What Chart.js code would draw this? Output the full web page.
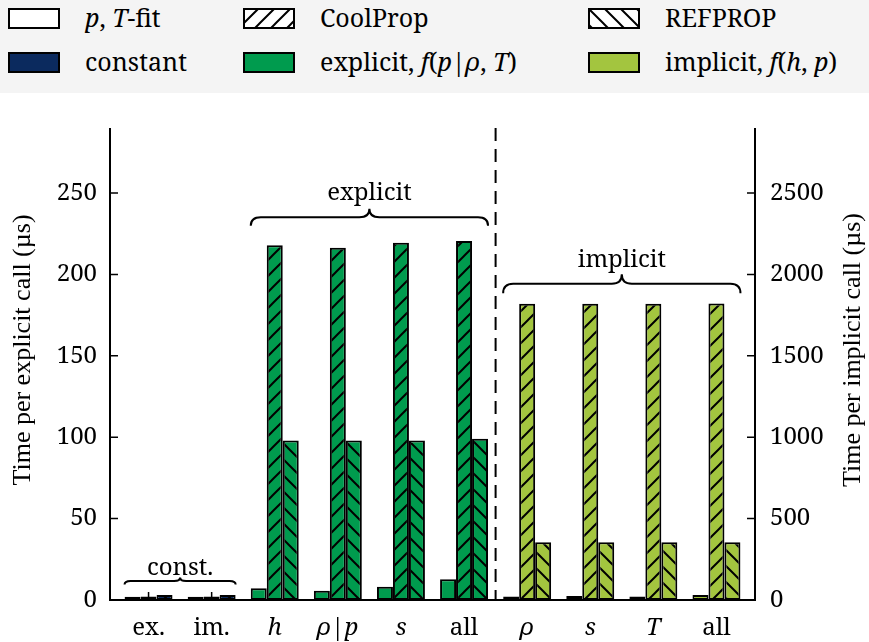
<!DOCTYPE html>
<html>
<head>
<meta charset="UTF-8">
<title>Time per call</title>
<script src="https://cdn.jsdelivr.net/npm/chart.js@4.4.0/dist/chart.umd.min.js"></script>
<style>
    body { margin:0; padding:0; background:#fff; }
    #wrap { position:relative; width:869px; height:642px; }
    #legend {
        position:absolute; left:0; top:0; width:869px; height:93px;
        background:#f4f4f4;
        font-family:"Noto Serif", "Liberation Serif", serif; font-size:25px; color:#000;
    }
    .item { position:absolute; height:21px; line-height:21px; white-space:nowrap; }
    .item canvas { position:absolute; left:0; top:0; }
    .item span { position:absolute; left:77px; top:-1px; }
    #chart { position:absolute; left:0; top:0; }
</style>
</head>
<body>
<div id="wrap">
    <canvas id="chart" width="869" height="642"></canvas>
    <div id="legend">
        <div class="item" style="left:8px;top:8px"><canvas id="sw0" width="52" height="21"></canvas><span><i>p</i>, <i>T</i>-fit</span></div>
        <div class="item" style="left:243px;top:8px"><canvas id="sw1" width="52" height="21"></canvas><span>CoolProp</span></div>
        <div class="item" style="left:588px;top:8px"><canvas id="sw2" width="52" height="21"></canvas><span>REFPROP</span></div>
        <div class="item" style="left:8px;top:52px"><canvas id="sw3" width="52" height="21"></canvas><span>constant</span></div>
        <div class="item" style="left:243px;top:52px"><canvas id="sw4" width="52" height="21"></canvas><span>explicit, <i>f</i>(<i>p</i>|<i>ρ</i>, <i>T</i>)</span></div>
        <div class="item" style="left:588px;top:52px"><canvas id="sw5" width="52" height="21"></canvas><span>implicit, <i>f</i>(<i>h</i>, <i>p</i>)</span></div>
    </div>
</div>
<script type="text/javascript">

// categories: 2 constant, 4 explicit (left axis), 4 implicit (right axis)
var categories = ['ex.', 'im.', 'h', 'ρ|p', 's', 'all', 'ρ', 's', 'T', 'all'];
var italicLabels = [2, 3, 4, 6, 7, 8];

// time per explicit call (µs), constant + explicit groups
var fitExplicit      = [2.0, 2.0, 7.2, 5.7, 8.2, 12.7];
var coolpropExplicit = [2.2, 2.2, 218, 216.5, 219.5, 220.5];
var refpropExplicit  = [3.0, 3.0, 98, 98, 98, 99];

// time per implicit call (µs)
var fitImplicit      = [22, 24, 22, 30];
var coolpropImplicit = [1820, 1820, 1820, 1822];
var refpropImplicit  = [355, 355, 355, 355];

var explicitTicks = [0, 50, 100, 150, 200, 250];
var implicitTicks = [0, 500, 1000, 1500, 2000, 2500];

var FONT = '"Noto Serif", "Liberation Serif", serif';
var TITLE_FONT = '"Liberation Serif", serif';
var colors = { constant: '#0b2a5e', explicit: '#009b4e', implicit: '#a3c53f' };

function groupOf(i) {
    if (i < 2) return 'constant';
    if (i < 6) return 'explicit';
    return 'implicit';
}

function makeFill(ctx, color, hatch) {
    if (!hatch) return color;
    var c = document.createElement('canvas');
    c.width = 16; c.height = 16;
    var g = c.getContext('2d');
    g.fillStyle = color;
    g.fillRect(0, 0, 16, 16);
    g.strokeStyle = '#000';
    g.lineWidth = 2;
    g.beginPath();
    if (hatch === '/') {
        g.moveTo(-2, 18); g.lineTo(18, -2);
        g.moveTo(-2, 2); g.lineTo(2, -2);
        g.moveTo(14, 18); g.lineTo(18, 14);
    } else {
        g.moveTo(-2, -2); g.lineTo(18, 18);
        g.moveTo(14, -2); g.lineTo(18, 2);
        g.moveTo(-2, 14); g.lineTo(2, 18);
    }
    g.stroke();
    return ctx.createPattern(c, 'repeat');
}

var mainCtx = document.getElementById('chart').getContext('2d');
var fills = {};
Object.keys(colors).forEach(function (k) {
    fills[k] = {
        fit: colors[k],
        cool: makeFill(mainCtx, colors[k], '/'),
        ref: makeFill(mainCtx, colors[k], '\\')
    };
});

// legend swatches
function swatch(id, fill) {
    var g = document.getElementById(id).getContext('2d');
    g.fillStyle = fill;
    g.fillRect(0, 0, 52, 21);
    g.strokeStyle = '#000';
    g.lineWidth = 2;
    g.strokeRect(1, 1, 50, 19);
}
swatch('sw0', '#fff');
swatch('sw1', makeFill(mainCtx, '#fff', '/'));
swatch('sw2', makeFill(mainCtx, '#fff', '\\'));
swatch('sw3', colors.constant);
swatch('sw4', colors.explicit);
swatch('sw5', colors.implicit);

function pad(before, values, after) {
    var out = [];
    for (var i = 0; i < before; i++) out.push(null);
    out = out.concat(values);
    for (var j = 0; j < after; j++) out.push(null);
    return out;
}

function bars(label, data, axis, kind) {
    return {
        label: label,
        data: data,
        yAxisID: axis,
        skipNull: true,
        backgroundColor: function (c) { return fills[groupOf(c.dataIndex)][kind]; },
        borderColor: '#000',
        borderWidth: 2,
        borderSkipped: false,
        categoryPercentage: 0.76,
        barPercentage: 1
    };
}

var braces = [
    { label: 'const.',   from: 0, to: 1, axis: 'y',  at: 9.5,  h: 7,  r: 6,  gap: 3 },
    { label: 'explicit', from: 2, to: 5, axis: 'y',  at: 230,  h: 17, r: 10, gap: 9 },
    { label: 'implicit', from: 6, to: 9, axis: 'y2', at: 1885, h: 19, r: 10, gap: 7 }
];

function drawBrace(ctx, x1, x2, y, h, r) {
    var xm = (x1 + x2) / 2, ym = y - h / 2;
    ctx.beginPath();
    ctx.moveTo(x1, y);
    ctx.quadraticCurveTo(x1, ym, x1 + r, ym);
    ctx.lineTo(xm - r, ym);
    ctx.quadraticCurveTo(xm, ym, xm, y - h);
    ctx.quadraticCurveTo(xm, ym, xm + r, ym);
    ctx.lineTo(x2 - r, ym);
    ctx.quadraticCurveTo(x2, ym, x2, y);
    ctx.stroke();
}

var decorations = {
    id: 'decorations',
    beforeDatasetsDraw: function (chart) {
        var ctx = chart.ctx, x = chart.scales.x, a = chart.chartArea;
        ctx.save();
        ctx.strokeStyle = '#000';
        ctx.lineWidth = 1.5;
        ctx.beginPath();
        categories.forEach(function (_, i) {
            var px = x.getPixelForValue(i);
            ctx.moveTo(px, a.bottom);
            ctx.lineTo(px, a.bottom - 8);
        });
        ctx.stroke();
        ctx.restore();
    },
    afterDatasetsDraw: function (chart) {
        var ctx = chart.ctx, a = chart.chartArea, x = chart.scales.x;
        var yl = chart.scales.y, yr = chart.scales.y2;
        var L = a.left - 7, R = a.right + 7;
        ctx.save();
        ctx.strokeStyle = '#000';

        // frame
        ctx.lineWidth = 2;
        ctx.beginPath();
        ctx.moveTo(L, a.top); ctx.lineTo(L, a.bottom); ctx.lineTo(R, a.bottom); ctx.lineTo(R, a.top);
        ctx.stroke();

        // inward y ticks
        ctx.lineWidth = 1.5;
        ctx.beginPath();
        explicitTicks.forEach(function (v) {
            var py = yl.getPixelForValue(v);
            ctx.moveTo(L, py); ctx.lineTo(L + 8, py);
        });
        implicitTicks.forEach(function (v) {
            var py = yr.getPixelForValue(v);
            ctx.moveTo(R, py); ctx.lineTo(R - 8, py);
        });
        ctx.stroke();

        // separator between explicit and implicit
        var sx = (x.getPixelForValue(5) + x.getPixelForValue(6)) / 2;
        ctx.lineWidth = 2;
        ctx.setLineDash([13, 8]);
        ctx.beginPath();
        ctx.moveTo(sx, a.top); ctx.lineTo(sx, a.bottom);
        ctx.stroke();
        ctx.setLineDash([]);

        // braces + labels
        ctx.font = '24px ' + FONT;
        ctx.fillStyle = '#000';
        ctx.textAlign = 'center';
        ctx.textBaseline = 'alphabetic';
        braces.forEach(function (b) {
            var x1 = x.getPixelForValue(b.from) - 24;
            var x2 = x.getPixelForValue(b.to) + 24;
            var py = chart.scales[b.axis].getPixelForValue(b.at);
            ctx.lineWidth = 2;
            drawBrace(ctx, x1, x2, py, b.h, b.r);
            ctx.fillText(b.label, (x1 + x2) / 2, py - b.h - b.gap);
        });

        // axis titles
        var midY = 350;
        ctx.font = '26px ' + TITLE_FONT;
        ctx.textBaseline = 'middle';
        ctx.save();
        ctx.translate(23, midY);
        ctx.rotate(-Math.PI / 2);
        ctx.fillText('Time per explicit call (µs)', 0, 0);
        ctx.restore();
        ctx.save();
        ctx.translate(853, midY);
        ctx.rotate(-Math.PI / 2);
        ctx.fillText('Time per implicit call (µs)', 0, 0);
        ctx.restore();

        ctx.restore();
    }
};

function plainNumber(v) { return String(v); }

var chart = new Chart(mainCtx, {
    type: 'bar',
    data: {
        labels: categories,
        datasets: [
            bars('p, T-fit', pad(0, fitExplicit, 4), 'y', 'fit'),
            bars('CoolProp', pad(0, coolpropExplicit, 4), 'y', 'cool'),
            bars('REFPROP', pad(0, refpropExplicit, 4), 'y', 'ref'),
            bars('p, T-fit', pad(6, fitImplicit, 0), 'y2', 'fit'),
            bars('CoolProp', pad(6, coolpropImplicit, 0), 'y2', 'cool'),
            bars('REFPROP', pad(6, refpropImplicit, 0), 'y2', 'ref')
        ]
    },
    plugins: [decorations],
    options: {
        responsive: false,
        animation: false,
        layout: { padding: { top: 128, left: 0, right: 0, bottom: 0 } },
        plugins: {
            legend: { display: false },
            tooltip: { enabled: false }
        },
        scales: {
            x: {
                grid: { display: false, drawTicks: false },
                border: { display: false },
                ticks: {
                    color: '#000',
                    padding: 14,
                    maxRotation: 0,
                    autoSkip: false,
                    font: function (c) {
                        return { family: FONT, size: 24, style: italicLabels.indexOf(c.index) >= 0 ? 'italic' : 'normal' };
                    }
                },
                afterFit: function (s) { s.height = 42; }
            },
            y: {
                position: 'left',
                min: 0, max: 290,
                grid: { display: false, drawTicks: false },
                border: { display: false },
                ticks: { color: '#000', padding: 20, font: { family: FONT, size: 24 }, callback: plainNumber },
                afterBuildTicks: function (s) { s.ticks = explicitTicks.map(function (v) { return { value: v }; }); },
                afterFit: function (s) { s.width = 117; }
            },
            y2: {
                position: 'right',
                min: 0, max: 2900,
                grid: { display: false, drawTicks: false },
                border: { display: false },
                ticks: { color: '#000', padding: 22, font: { family: FONT, size: 24 }, callback: plainNumber },
                afterBuildTicks: function (s) { s.ticks = implicitTicks.map(function (v) { return { value: v }; }); },
                afterFit: function (s) { s.width = 121; }
            }
        }
    }
});
</script>
</body>
</html>
